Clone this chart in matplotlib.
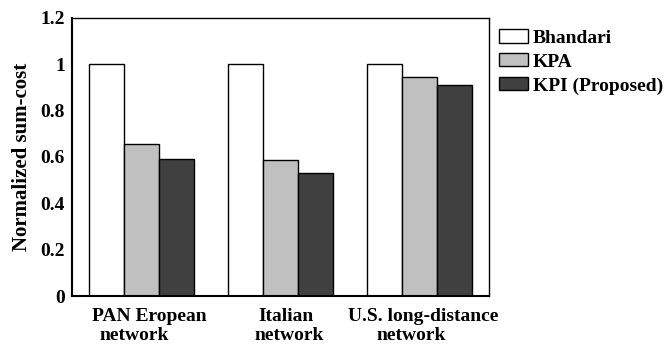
import numpy as np
import matplotlib.pyplot as plt

networks = ['PAN Eropean', 'Italian', 'U.S. long-distance']
methods = ['Bhandari', 'KPA', 'KPI (Proposed)']
bhandari = [1.0, 1.0, 1.0]
kpa = [0.654, 0.586, 0.945]
kpi = [0.592, 0.531, 0.909]

colors = ['#ffffff', '#c0c0c0', '#404040']

plt.rcParams.update({'font.family': 'Liberation Serif', 'font.weight': 'bold', 'font.size': 14})

fig = plt.figure(figsize=(6.67, 3.45), dpi=100)
ax = fig.add_axes([0.108, 0.142, 0.625, 0.806])

x = np.arange(len(networks))
w = 0.25
for i, (vals, lab) in enumerate(zip([bhandari, kpa, kpi], methods)):
    ax.bar(x + (i - 1) * w, vals, w, color=colors[i], edgecolor='black', linewidth=1.0, label=lab)

ax.set_xlim(-0.5, 2.5)
ax.set_ylim(0, 1.2)
ax.set_yticks([0, 0.2, 0.4, 0.6, 0.8, 1, 1.2])
ax.set_yticklabels(['0', '0.2', '0.4', '0.6', '0.8', '1', '1.2'])
ax.set_xticks(x)
ax.set_xticklabels([])
ax.tick_params(axis='y', length=0, pad=5)
ax.tick_params(axis='x', length=0)

# group labels are hand-placed in the original, slightly off-centre
shift1 = [8, 5.5, 4]
shift2 = [-7, 8.5, -8]
for i, name in enumerate(networks):
    ax.annotate(name, (x[i], 0), xytext=(shift1[i], -25), textcoords='offset pixels',
                ha='center', va='baseline', annotation_clip=False)
    ax.annotate('network', (x[i], 0), xytext=(shift2[i], -44), textcoords='offset pixels',
                ha='center', va='baseline', annotation_clip=False)

for s in ax.spines.values():
    s.set_linewidth(1.0)
ax.spines['left'].set_linewidth(1.5)
ax.spines['bottom'].set_linewidth(1.5)
ax.set_ylabel('Normalized sum-cost', fontweight='bold', fontsize=15, labelpad=6)

fig.legend(loc='upper left', bbox_to_anchor=(0.748, 0.915), frameon=False,
           handlelength=1.5, handleheight=0.67, handletextpad=0.25, labelspacing=0.33,
           borderaxespad=0, borderpad=0)

fig.savefig('out.png', dpi=100)
